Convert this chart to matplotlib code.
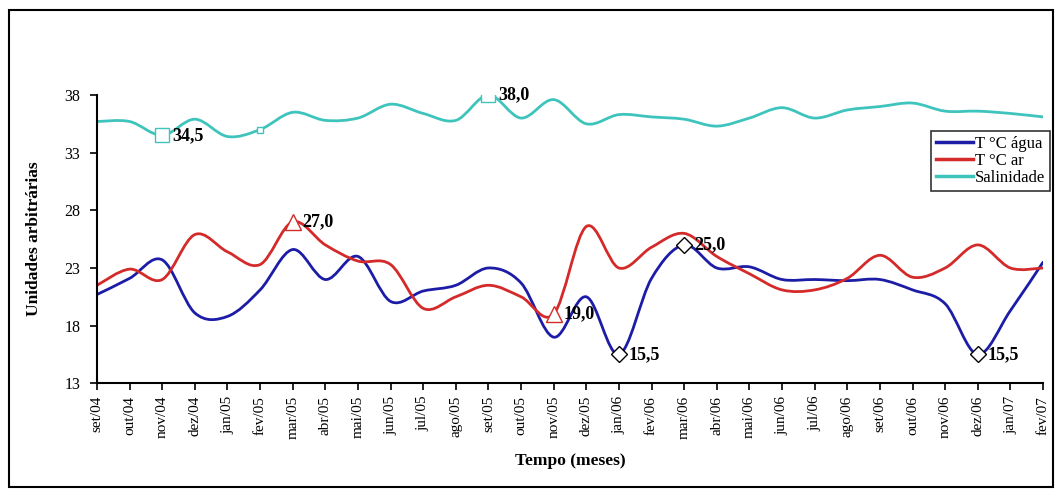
import numpy as np
import matplotlib.pyplot as plt
from matplotlib.path import Path
from matplotlib.patches import PathPatch, Rectangle
from matplotlib.lines import Line2D

plt.rcParams['font.family'] = ['Liberation Serif', 'DejaVu Serif']

# dados
meses = ['set/04', 'out/04', 'nov/04', 'dez/04', 'jan/05', 'fev/05', 'mar/05', 'abr/05',
         'mai/05', 'jun/05', 'jul/05', 'ago/05', 'set/05', 'out/05', 'nov/05', 'dez/05',
         'jan/06', 'fev/06', 'mar/06', 'abr/06', 'mai/06', 'jun/06', 'jul/06', 'ago/06',
         'set/06', 'out/06', 'nov/06', 'dez/06', 'jan/07', 'fev/07']
t_agua = [20.7, 22.1, 23.7, 19.1, 18.8, 21.1, 24.6, 22.0, 24.0, 20.1, 21.0, 21.5, 23.0, 21.7, 17.0,
          20.5, 15.5, 22.1, 25.0, 23.0, 23.1, 22.0, 22.0, 21.9, 22.0, 21.1, 19.9, 15.5, 19.3, 23.5]
t_ar = [21.5, 22.9, 22.0, 25.9, 24.4, 23.3, 27.0, 25.0, 23.6, 23.3, 19.5, 20.5, 21.5, 20.5, 19.0,
        26.6, 23.0, 24.8, 26.0, 24.0, 22.5, 21.1, 21.1, 22.1, 24.1, 22.2, 23.0, 25.0, 23.0, 23.0]
salinidade = [35.7, 35.7, 34.5, 35.9, 34.4, 35.0, 36.5, 35.8, 36.0, 37.2, 36.4, 35.8, 38.0, 36.0, 37.6,
              35.5, 36.3, 36.1, 35.9, 35.3, 36.0, 36.9, 36.0, 36.7, 37.0, 37.3, 36.6, 36.6, 36.4, 36.1]

# pontos destacados: (série, índice, marcador, tamanho, rótulo)
destaques = [('sal', 2, 's', 10, '34,5'), ('sal', 5, 's', 5, None), ('sal', 12, 's', 10, '38,0'),
             ('ar', 6, '^', 11, '27,0'), ('ar', 14, '^', 11, '19,0'),
             ('agua', 16, 'D', 8, '15,5'), ('agua', 18, 'D', 8, '25,0'), ('agua', 27, 'D', 8, '15,5')]

cores = {'agua': '#1c1ca6', 'ar': '#d42a2a', 'sal': '#3ec4bc'}
series = {'agua': t_agua, 'ar': t_ar, 'sal': salinidade}
nomes = {'agua': 'T °C água', 'ar': 'T °C ar', 'sal': 'Salinidade'}


def curva_suave(x, y):
    # linha suavizada estilo Excel (Catmull-Rom -> Bezier)
    px = np.concatenate([[x[0]], x, [x[-1]]])
    py = np.concatenate([[y[0]], y, [y[-1]]])
    verts = [(x[0], y[0])]
    codes = [Path.MOVETO]
    for i in range(1, len(px) - 2):
        c1 = (px[i] + (px[i + 1] - px[i - 1]) / 6, py[i] + (py[i + 1] - py[i - 1]) / 6)
        c2 = (px[i + 1] - (px[i + 2] - px[i]) / 6, py[i + 1] - (py[i + 2] - py[i]) / 6)
        verts += [c1, c2, (px[i + 1], py[i + 1])]
        codes += [Path.CURVE4] * 3
    return Path(verts, codes)


fig = plt.figure(figsize=(10.6, 4.95), dpi=100)
ax = fig.add_axes([97 / 1060, 1 - 383.3 / 495, (1043 - 97) / 1060, (383.3 - 95) / 495])

x = np.arange(len(meses))
for k in ['agua', 'ar', 'sal']:
    ax.add_patch(PathPatch(curva_suave(x.astype(float), np.array(series[k], float)),
                           facecolor='none', edgecolor=cores[k], lw=2.0, capstyle='round'))

for k, i, m, ms, txt in destaques:
    cor_borda = 'black' if k == 'agua' else cores[k]
    ax.plot(x[i], series[k][i], marker=m, ms=ms, mfc='white', mec=cor_borda, mew=1.0, zorder=5)
    if txt:
        ax.text(x[i] + 0.3, series[k][i], txt, fontsize=13, fontweight='bold',
                va='center', ha='left', zorder=6)

ax.set_xlim(0, 29)
ax.set_ylim(13, 38)
ax.set_yticks([13, 18, 23, 28, 33, 38])
ax.set_xticks(x)
ax.set_xticklabels(meses, rotation=90, fontsize=11)
ax.tick_params(axis='y', labelsize=11.5, direction='out', length=5, width=1.2, pad=7)
ax.tick_params(axis='x', direction='out', length=5, width=1.2, pad=4)
for s in ['top', 'right']:
    ax.spines[s].set_visible(False)
for s in ['left', 'bottom']:
    ax.spines[s].set_linewidth(1.5)

ax.set_ylabel('Unidades arbitrárias', fontsize=12.5, fontweight='bold', labelpad=16)
ax.set_xlabel('Tempo (meses)', fontsize=12.5, fontweight='bold', labelpad=10)

handles = [Line2D([], [], color=cores[k], lw=2.5) for k in ['agua', 'ar', 'sal']]
leg = ax.legend(handles, [nomes[k] for k in ['agua', 'ar', 'sal']], loc='upper right',
                bbox_to_anchor=(1050 / 1060, 1 - 131 / 495), bbox_transform=fig.transFigure,
                borderaxespad=0, fontsize=12, frameon=True, fancybox=False,
                handlelength=2.2, handletextpad=0.1, borderpad=0.3, labelspacing=0.05)
leg.get_frame().set_edgecolor('black')
leg.get_frame().set_linewidth(1.2)

fig.patches.append(Rectangle((9 / 1060, 1 - 487 / 495), (1053 - 9) / 1060, (487 - 10) / 495,
                             transform=fig.transFigure, fill=False, edgecolor='black', lw=1.5))

fig.savefig('out.png', dpi=100)
